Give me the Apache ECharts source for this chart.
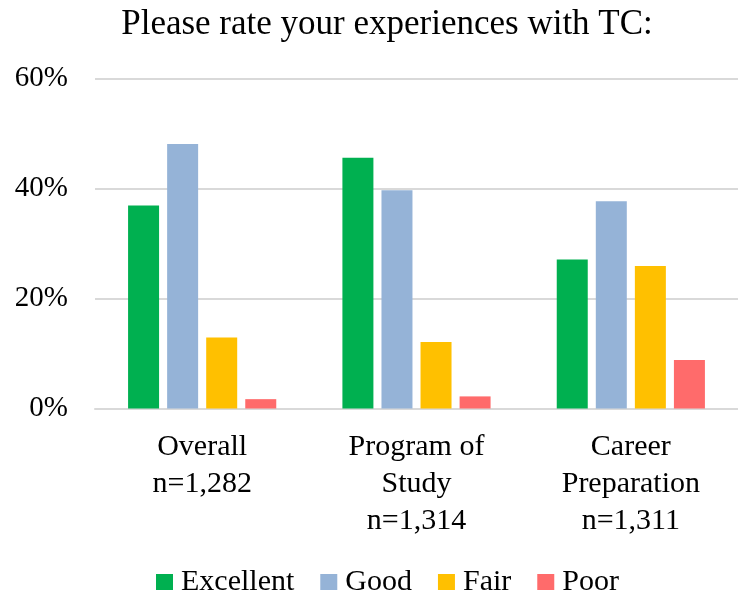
<!DOCTYPE html>
<html>
<head>
<meta charset="utf-8">
<style>
html,body{margin:0;padding:0;background:#fff;}
#c{width:738px;height:592px;}
</style>
<script src="https://cdn.jsdelivr.net/npm/echarts@6/dist/echarts.min.js"></script>
</head>
<body>
<div id="c"></div>
<script>
const categories = ['Overall\nn=1,282', 'Program of\nStudy\nn=1,314', 'Career\nPreparation\nn=1,311'];
const excellent = [36.9, 45.6, 27.1];
const good = [48.1, 39.7, 37.7];
const fair = [12.9, 12.1, 25.9];
const poor = [1.7, 2.2, 8.8];
const seriesNames = ['Excellent', 'Good', 'Fair', 'Poor'];
const colors = ['#00B050', '#95B3D7', '#FFC000', '#FF6B6B'];
const yTicks = [0, 20, 40, 60];

const font = 'Liberation Serif';
const chart = echarts.init(document.getElementById('c'), null, {renderer: 'canvas'});
const data = [excellent, good, fair, poor];
chart.setOption({
  animation: false,
  backgroundColor: '#fff',
  color: colors,
  title: {
    text: 'Please rate your experiences with TC:',
    left: 382, top: 2, textAlign: 'center',
    textStyle: {fontFamily: font, fontSize: 35, fontWeight: 'normal', color: '#000'}
  },
  legend: {
    data: seriesNames,
    left: 151, top: 562,
    itemWidth: 17, itemHeight: 16, itemGap: 26,
    icon: 'rect',
    textStyle: {fontFamily: font, fontSize: 30, color: '#000', padding: [0, 0, 0, 3]}
  },
  grid: {left: 95, right: -4, top: 78.5, bottom: 183.5},
  xAxis: {
    type: 'category',
    data: categories,
    axisTick: {show: false},
    axisLine: {lineStyle: {color: '#D9D9D9', width: 2}},
    axisLabel: {fontFamily: font, fontSize: 30, color: '#000', lineHeight: 37, margin: 20, interval: 0}
  },
  yAxis: {
    type: 'value',
    min: yTicks[0], max: yTicks[yTicks.length - 1], interval: 20,
    axisLine: {show: false},
    axisTick: {show: false},
    splitLine: {lineStyle: {color: '#D9D9D9', width: 2}},
    axisLabel: {fontFamily: font, fontSize: 29, color: '#000', margin: 27, formatter: v => v + '%'}
  },
  series: seriesNames.map((n, i) => ({
    name: n,
    type: 'bar',
    data: data[i],
    barWidth: 31,
    barGap: '26%',
    itemStyle: {color: colors[i]}
  }))
});
</script>
</body>
</html>
